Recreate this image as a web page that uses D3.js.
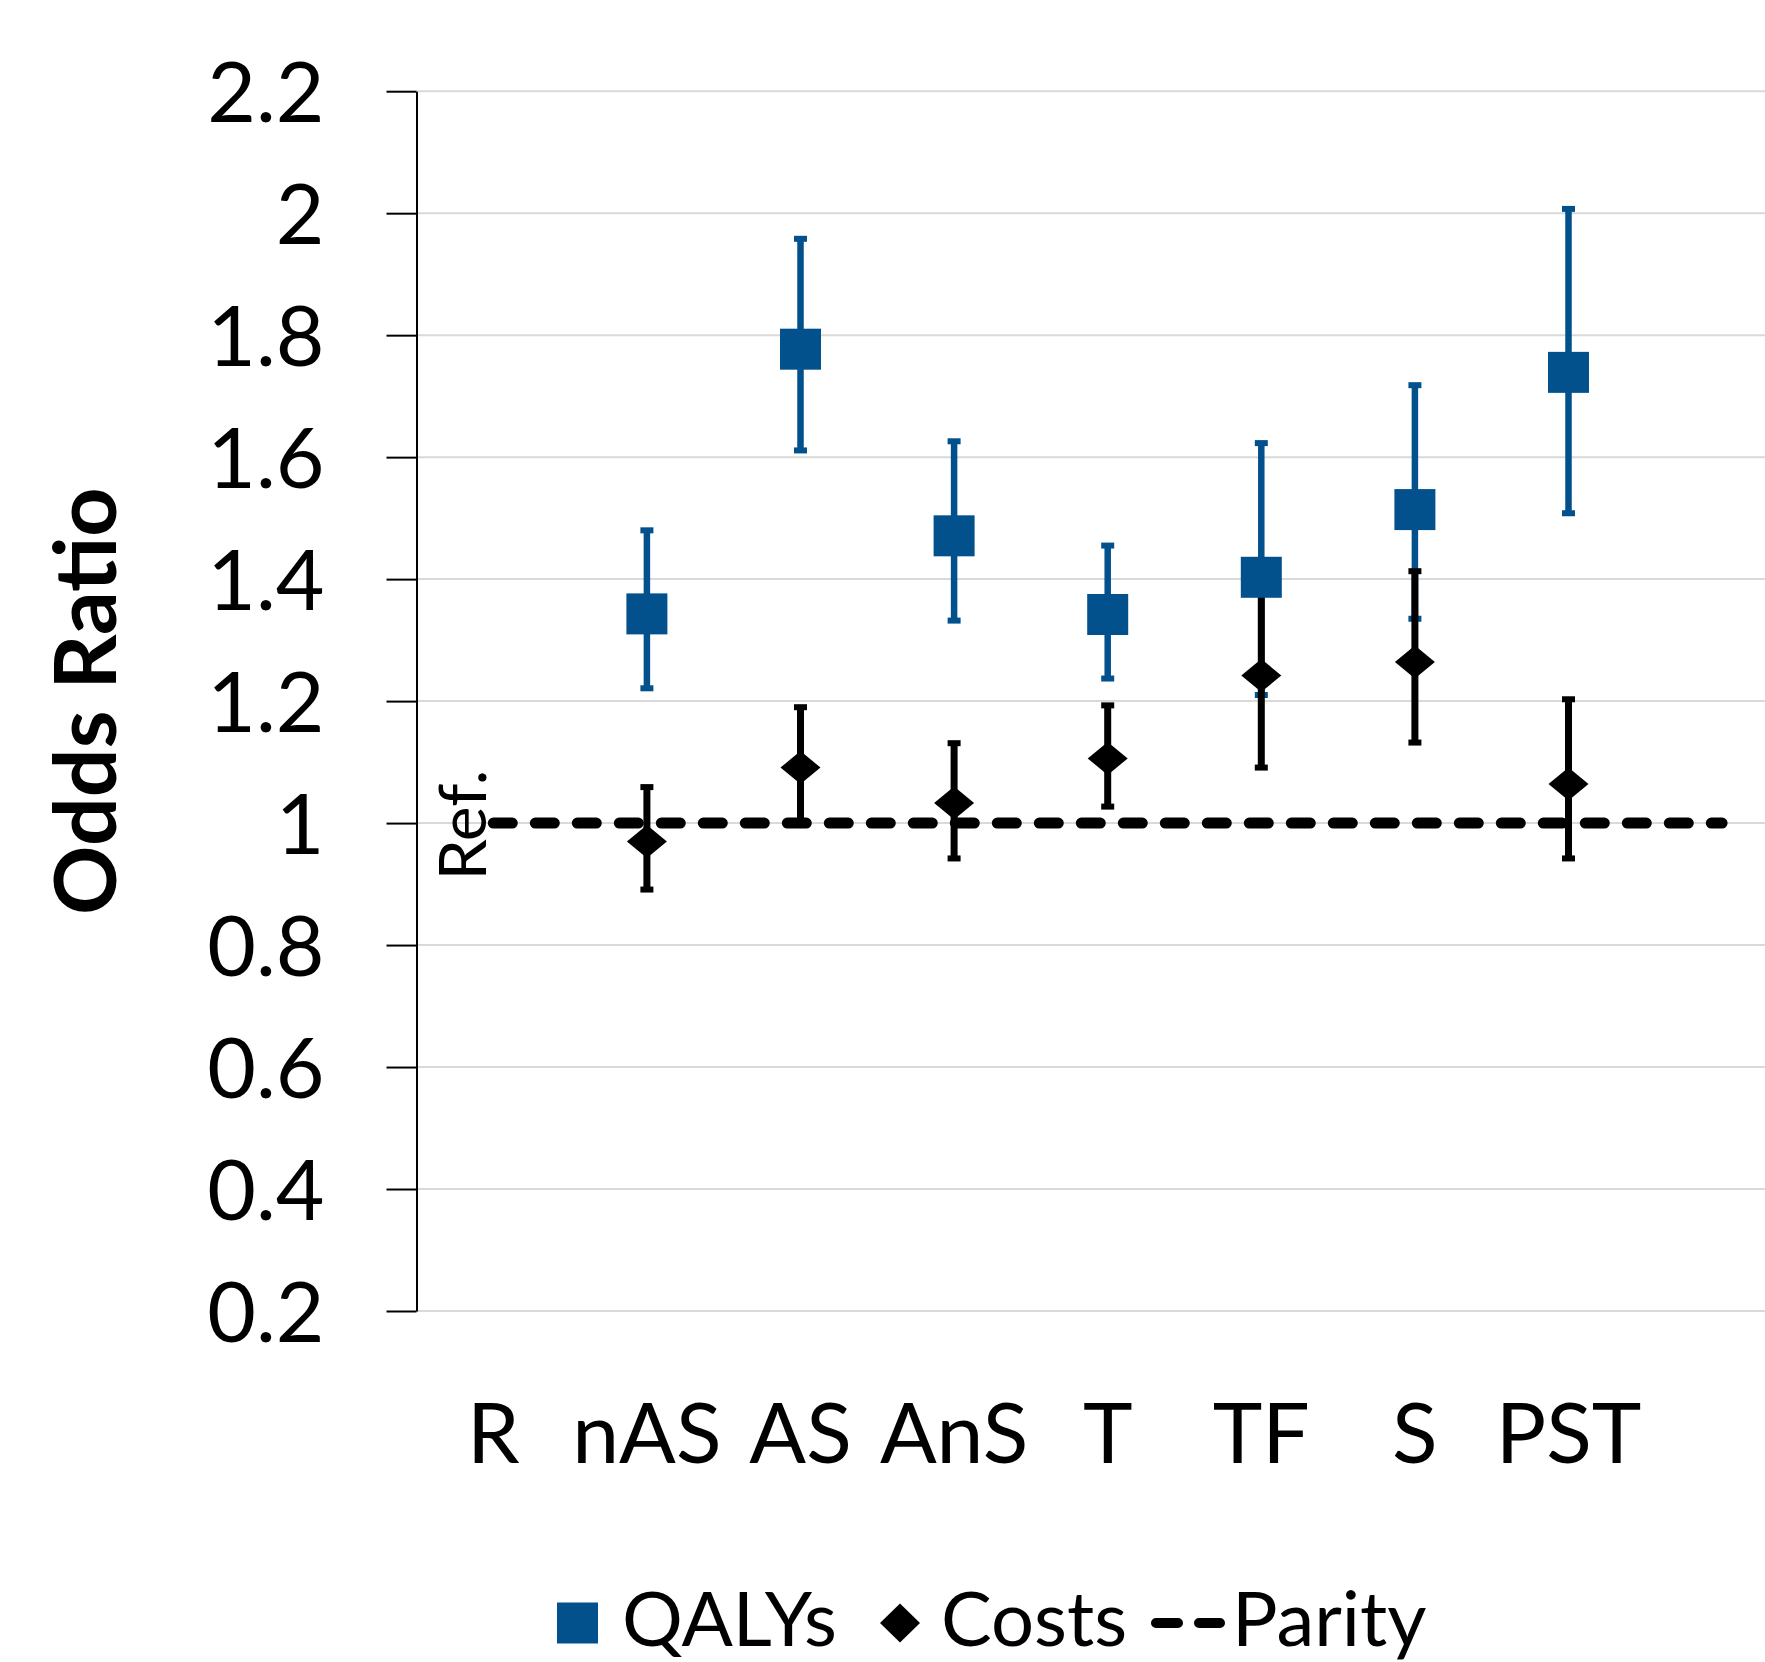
<!DOCTYPE html>
<html>
<head>
<meta charset="utf-8">
<script src="https://cdn.jsdelivr.net/npm/d3@7"></script>
<style>
  html, body { margin: 0; padding: 0; background: #fff; }
  svg { display: block; }
  text { font-family: Lato, "Open Sans", sans-serif; fill: #000; }
</style>
</head>
<body>
<svg id="chart" width="1765" height="1662"></svg>
<script>
// ---- data ----
const categories = ["R", "nAS", "AS", "AnS", "T", "TF", "S", "PST"];
const qalyOR    = [null, 1.343, 1.777, 1.471, 1.342, 1.403, 1.514, 1.739];
const qalyLow   = [null, 1.221, 1.611, 1.332, 1.237, 1.210, 1.335, 1.508];
const qalyHigh  = [null, 1.480, 1.958, 1.626, 1.455, 1.623, 1.718, 2.007];
const costOR    = [null, 0.970, 1.091, 1.033, 1.106, 1.242, 1.264, 1.064];
const costLow   = [null, 0.891, 1.003, 0.942, 1.027, 1.091, 1.132, 0.942];
const costHigh  = [null, 1.059, 1.190, 1.131, 1.193, 1.410, 1.413, 1.203];
const paritySlots = [0, 1, 2, 3, 4, 5, 6, 7, 8];
const parityValues = [1, 1, 1, 1, 1, 1, 1, 1, 1];
const yTicks = [0.2, 0.4, 0.6, 0.8, 1, 1.2, 1.4, 1.6, 1.8, 2, 2.2];
const yTickLabels = ["0.2", "0.4", "0.6", "0.8", "1", "1.2", "1.4", "1.6", "1.8", "2", "2.2"];
const refLabel = "Ref.";
const yTitle = "Odds Ratio";
const legendLabels = ["QALYs", "Costs", "Parity"];

(function () {
const BLUE = "#02518C";
const svg = d3.select("#chart");
const W = 1765;
const pLeft = 416.5, pTop = 91.2, pBottom = 1311;
const slotW = 153.6;

const x = d3.scaleBand().domain(d3.range(9)).range([pLeft, pLeft + 9 * slotW]).padding(0);
const cx = i => x(i) + x.bandwidth() / 2;
const y = d3.scaleLinear().domain([0.2, 2.2]).range([pBottom, pTop]);

// gridlines
svg.append("g").selectAll("line").data(yTicks).join("line")
  .attr("x1", pLeft).attr("x2", W)
  .attr("y1", d => y(d)).attr("y2", d => y(d))
  .attr("stroke", "#D9D9D9").attr("stroke-width", 2);

// y axis
const yAxis = d3.axisLeft(y).tickValues(yTicks)
  .tickFormat((d, i) => yTickLabels[i])
  .tickSize(30).tickSizeOuter(0).tickPadding(62);
const ga = svg.append("g").attr("transform", `translate(${pLeft},0)`).call(yAxis);
ga.select(".domain").attr("stroke", "#000").attr("stroke-width", 2);
ga.selectAll(".tick line").attr("stroke", "#000").attr("stroke-width", 2);
ga.selectAll(".tick text").attr("font-size", 84).attr("font-family", "Lato")
  .attr("fill", "#000").attr("dy", "0.36em");

// category labels
svg.append("g").selectAll("text").data(categories).join("text")
  .attr("x", (d, i) => cx(i)).attr("y", 1463)
  .attr("text-anchor", "middle").attr("font-size", 84).text(d => d);

// y title
svg.append("text")
  .attr("transform", `translate(116,${(pTop + pBottom) / 2}) rotate(-90)`)
  .attr("text-anchor", "middle").attr("font-size", 86).attr("font-weight", "bold")
  .text(yTitle);

// Ref label
svg.append("text")
  .attr("transform", `translate(${cx(0) - 7},${y(1) + 2}) rotate(-90)`)
  .attr("text-anchor", "middle").attr("font-size", 66).text(refLabel);

// parity line
const parityLine = d3.line().x(d => cx(d)).y((d, i) => y(parityValues[i]));
svg.append("path").datum(paritySlots).attr("d", parityLine)
  .attr("fill", "none").attr("stroke", "#000").attr("stroke-width", 11)
  .attr("stroke-dasharray", "19,23").attr("stroke-linecap", "round");

// error bars
function errorBars(lows, highs, color, sw) {
  const idx = d3.range(categories.length).filter(i => lows[i] != null);
  const g = svg.append("g").attr("stroke", color);
  g.selectAll(".stem").data(idx).join("line")
    .attr("x1", i => cx(i)).attr("x2", i => cx(i))
    .attr("y1", i => y(lows[i])).attr("y2", i => y(highs[i]))
    .attr("stroke-width", sw);
  g.selectAll(".capl").data(idx).join("line")
    .attr("x1", i => cx(i) - 6.5).attr("x2", i => cx(i) + 6.5)
    .attr("y1", i => y(lows[i])).attr("y2", i => y(lows[i]))
    .attr("stroke-width", 6);
  g.selectAll(".caph").data(idx).join("line")
    .attr("x1", i => cx(i) - 6.5).attr("x2", i => cx(i) + 6.5)
    .attr("y1", i => y(highs[i])).attr("y2", i => y(highs[i]))
    .attr("stroke-width", 6);
}
errorBars(qalyLow, qalyHigh, BLUE, 6.5);
errorBars(costLow, costHigh, "#000", 7);

// markers
const SQ = 41;
const qIdx = d3.range(categories.length).filter(i => qalyOR[i] != null);
svg.append("g").selectAll("rect").data(qIdx).join("rect")
  .attr("x", i => cx(i) - SQ / 2).attr("y", i => y(qalyOR[i]) - SQ / 2)
  .attr("width", SQ).attr("height", SQ).attr("fill", BLUE);

const diamond = (w, h) => `M0,${-h / 2}L${w / 2},0L0,${h / 2}L${-w / 2},0Z`;
const cIdx = d3.range(categories.length).filter(i => costOR[i] != null);
svg.append("g").selectAll("path").data(cIdx).join("path")
  .attr("transform", i => `translate(${cx(i)},${y(costOR[i])})`)
  .attr("d", diamond(40, 33)).attr("fill", "#000");

// legend
const lg = svg.append("g");
const ly = 1623, lb = 1646;
lg.append("rect").attr("x", 557).attr("y", ly - 20.5).attr("width", 41).attr("height", 41).attr("fill", BLUE);
lg.append("text").attr("x", 622).attr("y", lb).attr("font-size", 76).text(legendLabels[0]);
lg.append("path").attr("transform", `translate(900,${ly})`).attr("d", diamond(40, 39)).attr("fill", "#000");
lg.append("text").attr("x", 941).attr("y", lb).attr("font-size", 76).text(legendLabels[1]);
lg.append("line").attr("x1", 1156).attr("x2", 1220).attr("y1", ly).attr("y2", ly)
  .attr("stroke", "#000").attr("stroke-width", 10).attr("stroke-linecap", "round")
  .attr("stroke-dasharray", "22,21");
lg.append("text").attr("x", 1232).attr("y", lb).attr("font-size", 76).text(legendLabels[2]);
})();
</script>
</body>
</html>
